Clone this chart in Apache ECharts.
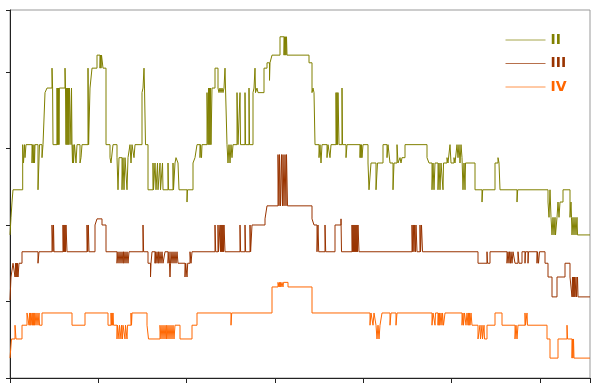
<!DOCTYPE html>
<html>
<head>
<meta charset="utf-8">
<script src="https://cdn.jsdelivr.net/npm/echarts@6/dist/echarts.min.js"></script>
<style>html,body{margin:0;padding:0;background:#fff}#c{width:600px;height:388px}</style>
</head>
<body>
<div id="c"></div>
<script>
const seriesNames = ['II', 'III', 'IV'];
const seriesColors = ['#808000', '#993300', '#ff6600'];

const II = [[0,18.7],[1,21.0],[2,23.0],[3,24.6],
[12.7,30.5],[13.5,28.1],[14.5,30.5],[15,28.8],[16,30.5],
[22,28.1],[22.7,30.5],[23.3,28.1],[24,30.5],[24.5,28.1],[25,30.5],
[28,24.6],[29.5,30.5],[32,28.8],[33,30.5],
[35,37.3],[37,37.9],[42,40.5],[42.6,37.9],[43,30.5],
[47,37.9],[47.4,30.5],[47.8,37.9],[48.2,30.5],[48.6,37.9],[49,30.5],[49.4,37.9],
[55,40.5],[55.5,37.9],[56,30.5],[56.4,37.9],[57,30.5],[57.5,37.9],[58,30.5],[58.5,37.9],[59,30.5],[59.5,37.9],[61,30.5],[61.5,37.9],
[62,30.5],[62.5,28.1],[63,30.5],[63.5,28.1],[64.5,30.5],[66,28.1],[67,30.5],[70,28.1],[71,28.8],[72,30.5],
[78,40.5],[78.6,30.5],
[80,37.9],[82,40.5],[87,42.2],[90,40.5],[90.5,42.2],[91,40.5],[91.5,42.2],[93,40.5],
[96,30.5],[100,28.8],[101,28.1],[103,30.5],
[107,28.8],[108,24.6],[109,28.8],[112,24.6],[113,28.8],[114,24.6],[115,28.8],[117,24.6],[118,28.8],
[120,30.5],[121,28.1],[122,30.5],[124,28.8],[125,30.5],
[132,37.3],[133,37.9],[134,40.5],[134.5,37.9],[135.5,30.5],[138,24.6],
[143,28.1],[143.5,24.6],[145,28.1],[146,24.6],[147.5,28.1],[148,24.6],[150,28.1],[150.5,24.6],[152.5,28.1],[153,24.6],
[158,28.1],[158.5,24.6],[163,28.1],[163.5,24.6],[165,28.1],[166,28.8],[168,28.1],[169,24.6],
[177,23.0],[177.5,24.6],
[183,28.1],[185,28.8],[187,30.5],[190,28.8],[190.5,30.5],[191.5,28.8],[192,30.5],
[197,37.3],[198,30.5],[198.5,37.9],[199,30.5],[199.5,37.9],[200,30.5],[200.5,37.9],[201,30.5],[202,37.9],
[205,40.5],[208,37.9],[209,37.3],[210,37.9],[211,37.3],[212,37.9],[213,37.3],[214,37.9],[215,40.5],[215.5,37.9],
[217,30.5],[218,28.1],[219,30.5],[220,28.1],[221,30.5],[222,28.8],[223,30.5],
[227,37.3],[228,30.5],[230,37.3],[230.5,30.5],
[235,37.3],[235.5,30.5],[239,37.9],[239.5,30.5],
[243,37.3],[244,37.9],[245,40.5],[245.5,37.3],[247,37.9],[248,37.3],
[254,40.5],[257,41.2],[259.5,38.9],[260,41.2],[262,42.2],
[270,44.6],[274,42.2],[274.5,44.6],[275,42.2],[275.5,44.6],[276,42.2],[276.5,44.6],[277,42.2],
[299,41.2],[302,37.3],[303,37.9],[304,37.3],[305,30.5],
[309,28.8],[310,30.5],[311,28.1],[312,30.5],[317,28.8],[318,30.5],[320,28.8],[321,30.5],
[326,37.3],[326.5,30.5],[327,37.3],[327.5,30.5],[328,37.3],[329,30.5],[332,37.9],[332.5,30.5],
[336,28.8],[337,30.5],[350,28.8],[350.5,30.5],[351,28.8],[351.5,30.5],[352,28.8],[353,30.5],
[358,28.1],[359,24.6],[361,28.1],[366,24.6],[367.5,28.1],
[373,30.5],[377,28.8],[378,30.5],
[380,28.1],[383,24.6],[384,28.1],[387,30.5],[388,28.1],[390,28.8],[391,28.1],[392,28.8],[395,30.5],
[417,28.8],[419,28.1],[422,24.6],[423,28.1],[424,24.6],[425,28.1],[428,24.6],[429,28.1],[430,24.6],[431,28.1],[433,24.6],[433.5,28.1],
[437,28.8],[438,28.1],[440,30.5],[441,28.1],[444,28.8],[445,28.1],[447,30.5],[448,28.8],[449,30.5],[450,28.1],[451,30.5],
[452,28.8],[453,24.6],[454,28.1],[455,24.6],[455.5,28.1],
[465,24.6],[472,23.0],[472.7,24.6],
[485,28.1],[488,28.8],[489,28.1],[490,24.6],
[507,23.0],[507.7,24.6],
[538,23.0],[539,21.0],[540,24.6],[541,21.0],[542,18.7],
[543,21.0],[544,18.7],[545,21.0],[545.5,18.7],
[547,21.0],[548,23.0],[549,21.0],[550,23.0],[553,24.6],
[560,21.0],[561,23.0],[561.5,21.0],[562,18.7],[563,21.0],[564,18.7],[565,21.0],[566,18.7],[567,21.0],[567.5,18.7],
[580,18.7]];

const III = [[0,10.2],[1,13.2],[3,15.0],[5,13.2],[5.5,15.0],[6,13.2],[6.5,15.0],[7,13.2],[7.5,15.0],[8,13.2],[9,15.0],[12,16.5],
[28,15.0],[29,16.5],
[42,20.0],[43,16.5],[43.5,20.0],[44,16.5],
[53,20.0],[53.5,16.5],[54,20.0],[54.5,16.5],[55,20.0],[55.5,16.5],[56,20.0],[57,16.5],
[77,20.0],[77.7,16.5],[78.3,20.0],[79,16.5],
[85,20.0],[87,20.8],[92,20.0],[96,16.5],
[107,15.0],[108,16.5],[109,15.0],[110,16.5],[111,15.0],[112,16.5],[113,15.0],[113.5,16.5],[114,15.0],[115,16.5],[116,15.0],[117,16.5],[118,15.0],[119,16.5],
[133,20.0],[133.6,16.5],
[138,15.0],[140.5,13.2],[141,15.0],[142,16.5],
[145,15.0],[145.5,16.5],[146,15.0],[147,16.5],[148,15.0],[148.5,16.5],[149,15.0],[150,16.5],[151,15.0],[152,16.5],[153,15.0],[155,16.5],
[158,15.0],[159,16.5],[159.5,15.0],[160,13.2],[160.5,15.0],[161,16.5],[162,15.0],[163,16.5],[164,15.0],[165,16.5],[166,15.0],[167,16.5],[168,15.0],
[175,13.2],[175.7,15.0],[177,13.2],[177.7,15.0],[180,16.5],[181,15.0],[182,16.5],
[205,20.0],[205.7,16.5],[208,20.0],[208.5,16.5],[210,20.0],[210.5,16.5],[211,20.0],[211.5,16.5],[212,20.0],[212.5,16.5],[213,20.0],[213.5,16.5],[214,20.0],[215,16.5],
[230,20.0],[230.6,16.5],[235,20.0],[235.6,16.5],[240,20.0],[240.6,16.5],
[242,20.0],[255,20.8],[257,22.5],
[268,29.2],[269,22.5],[269.5,29.2],[270.5,22.5],[271.5,29.2],[272.5,22.5],[273,29.2],[274,22.5],[275,29.2],[276,22.5],[276.5,29.2],[277.5,22.5],
[302,20.8],[304,20.0],[307,16.5],
[308,20.0],[308.7,16.5],[315,20.0],[315.7,16.5],
[325,20.0],[331,20.8],[331.5,16.5],
[342,20.0],[342.5,16.5],[343,20.0],[343.5,16.5],[344,20.0],[344.5,16.5],[345,20.0],[345.5,16.5],[346,20.0],[346.5,16.5],[347,20.0],[347.5,16.5],[348,20.0],[349,16.5],
[402,20.0],[402.7,16.5],[403.3,20.0],[404,16.5],[404.7,20.0],[405.5,16.5],[406,20.0],[407,16.5],[410,20.0],[410.5,16.5],[411.5,20.0],[412.5,16.5],
[468,15.0],[477,16.5],[477.5,15.0],[480,16.5],
[497,15.0],[498,16.5],[499,15.0],[499.5,16.5],[500.5,15.0],[501,16.5],[502,15.0],[503,16.5],
[505,15.0],[508,16.5],[509,15.0],[512,16.5],
[515,15.0],[515.5,16.5],[518,15.0],[518.5,16.5],
[527,15.0],[527.5,16.5],[528.5,15.0],[529.5,16.5],
[535,15.0],[538,13.2],[542,10.6],
[547,13.2],[555,15.0],[560,13.2],[562,10.6],[562.5,13.2],[563,10.6],[563.5,13.2],[564,10.6],[564.5,13.2],[565,10.6],[566,13.2],[566.5,10.6],[567.5,13.2],[568,10.6],[580,10.6]];

const IV = [[0,2.6],[1.5,5.1],[5,6.9],[6,5.1],[12,6.9],[17,8.5],
[19,6.9],[19.5,8.5],[20,6.9],[20.5,8.5],[21,6.9],[22,8.5],[22.5,6.9],[23,8.5],[23.5,6.9],[24,8.5],[24.5,6.9],[25,8.5],[26,6.9],[27,8.5],[28,6.9],[29,8.5],[29.5,6.9],[32,8.5],
[62,6.9],[75,8.5],
[98,6.9],[101,8.5],[101.5,6.9],[102,8.5],[102.5,6.9],[103,8.5],[103.5,6.9],
[107,5.1],[107.5,6.9],[109,5.1],[109.5,6.9],[111,5.1],[111.5,6.9],[112.5,5.1],[113,6.9],[115,5.1],[115.5,6.9],[117,5.1],[117.5,6.9],
[121,8.5],[121.5,6.9],[122,8.5],
[137,6.9],[138.5,5.1],
[150,6.9],[151,5.1],[152,6.9],[153,5.1],[154,6.9],[155,5.1],[156,6.9],[156.5,5.1],[157,6.9],[158,5.1],[159,6.9],[160,5.1],[161,6.9],[162,5.1],[163,6.9],[164,5.1],
[165,6.9],[170,5.1],[182,6.9],[187,8.5],
[221,6.9],[221.7,8.5],
[262,11.9],[268,12.5],[269,11.9],[269.5,12.5],[270,11.9],[270.5,12.5],[271,11.9],[272,12.5],[273,11.9],[273.5,12.5],[278,11.9],
[302,8.5],
[360,6.9],[361,8.5],[363,6.9],[364,8.5],[366,6.9],[367,5.1],[368,6.9],[369,5.1],[370,6.9],[372,8.5],[380,6.9],[381,8.5],[386,6.9],[387,8.5],
[422,6.9],[423,8.5],[425,6.9],[425.5,8.5],[428,6.9],[428.5,8.5],[429,6.9],[429.5,8.5],[430,6.9],[431,8.5],[432,6.9],[432.5,8.5],[433.5,6.9],[435,8.5],
[452,6.9],[453,8.5],[453.5,6.9],[454.5,8.5],[456,6.9],[457,8.5],[458,6.9],[458.5,8.5],[459,6.9],[459.5,8.5],[460,6.9],[461,8.5],[462,6.9],
[468,5.1],[470,6.9],[470.5,5.1],[472,6.9],[472.5,5.1],[474,6.9],[474.5,5.1],[477,6.9],
[485,8.5],[492,6.9],
[505,5.1],[506,6.9],[507,5.1],[508,6.9],
[515,8.5],[515.5,6.9],[517,8.5],[517.5,6.9],
[537,5.1],[540,2.6],
[548,5.1],[557,6.9],[557.5,5.1],
[562,2.6],[562.5,5.1],[563,2.6],[563.5,5.1],[564,2.6],[580,2.6]];

const seriesData = [II, III, IV];

const chart = echarts.init(document.getElementById('c'), null, {renderer: 'canvas'});
chart.setOption({
  animation: false,
  backgroundColor: '#fff',
  grid: {left: 10, right: 10, top: 10, bottom: 10, show: true, borderColor: '#999', borderWidth: 1, backgroundColor: 'transparent'},
  legend: {
    orient: 'vertical', left: 500, top: 28, itemWidth: 40, itemHeight: 14, itemGap: 9.5,
    itemStyle: {opacity: 0},
    lineStyle: {width: 1, opacity: 0.7},
    textStyle: {fontFamily: 'DejaVu Sans', fontWeight: 'bold', fontSize: 14},
    data: seriesNames.map((n, i) => ({name: n, textStyle: {color: seriesColors[i]}}))
  },
  xAxis: {
    type: 'value', min: 0, max: 580, interval: 88.33,
    axisLine: {show: true, lineStyle: {color: '#222', width: 1}},
    axisTick: {show: true, length: 5, lineStyle: {color: '#222'}},
    axisLabel: {show: false}, splitLine: {show: false}
  },
  yAxis: {
    type: 'value', min: 0, max: 48.1, interval: 10,
    axisLine: {show: true, lineStyle: {color: '#222', width: 1}},
    axisTick: {show: true, length: 4, lineStyle: {color: '#222'}},
    axisLabel: {show: false}, splitLine: {show: false}
  },
  series: seriesNames.map((n, i) => ({
    name: n, type: 'line', step: 'end', symbol: 'none', data: seriesData[i],
    color: seriesColors[i], lineStyle: {width: 1, color: seriesColors[i]}
  }))
});
</script>
</body>
</html>
